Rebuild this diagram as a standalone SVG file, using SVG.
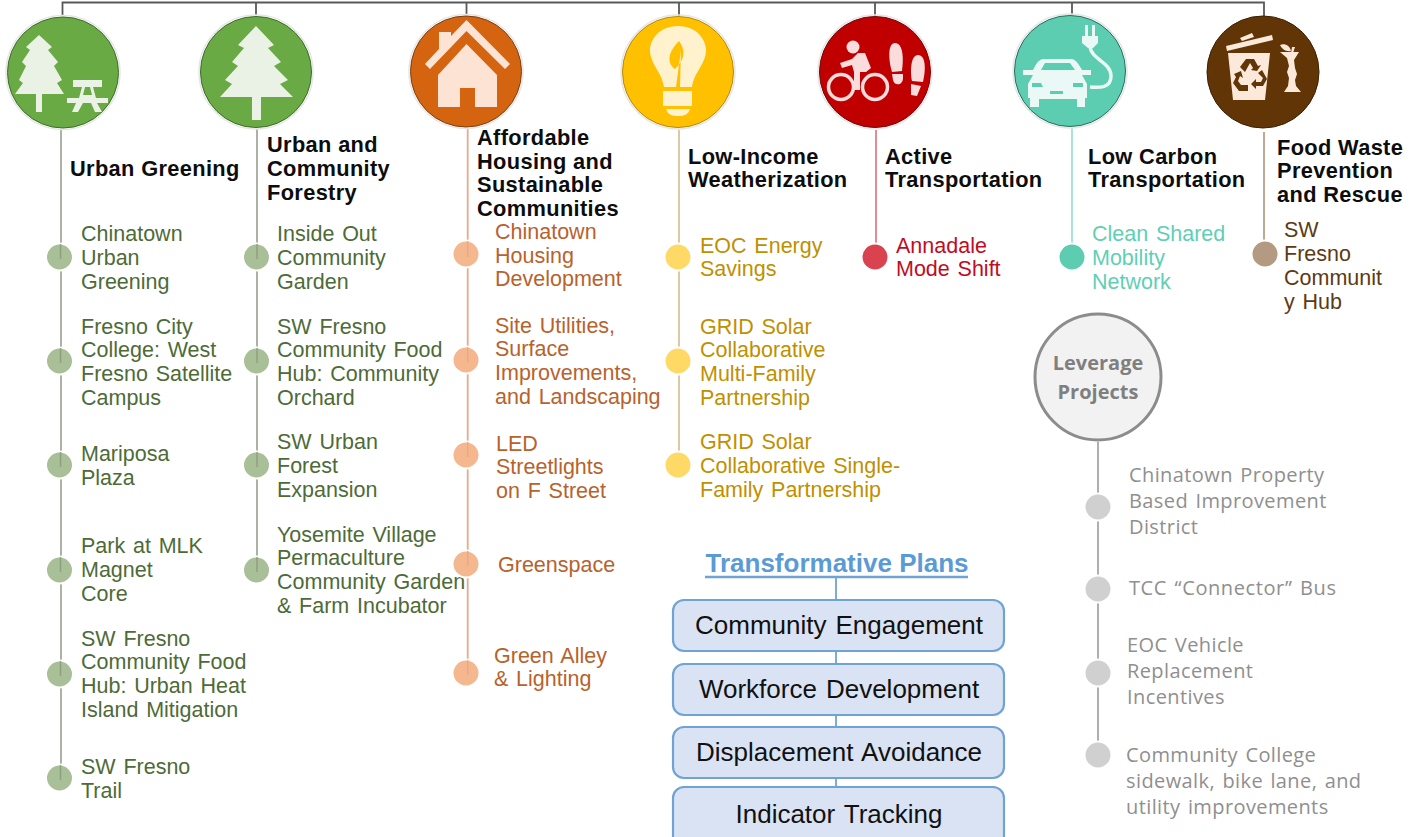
<svg xmlns="http://www.w3.org/2000/svg" width="1410" height="837" viewBox="0 0 1410 837">
<style>
text{font-family:"Liberation Sans",Arial,sans-serif;font-size:21.5px;word-spacing:1.8px}
.t{font-weight:700;fill:#0d0d0d;font-size:21.8px;letter-spacing:.35px;word-spacing:0}
.g{fill:#4e6b37}.o{fill:#b8622c}.y{fill:#bf9000}.r{fill:#c00d1e}.c{fill:#5fcfb5}.b{fill:#5e3a14}
.l{fill:#8f8f8f;font-family:"Open Sans",sans-serif;font-size:20px;letter-spacing:.4px}
.box{fill:#dae3f3;stroke:#6fa3d3;stroke-width:2.2}
.bt{font-size:26px;fill:#111;text-anchor:middle}
.halo{fill:none;stroke:#e6e6e6;stroke-width:1.5}
.dot{stroke:#fff;stroke-width:2}
</style>
<g id="connectors" fill="none" stroke-width="1.800">
<path d="M62.500 16V2.500H1264V16M256 2.500V15M466.500 2.500V15M679 2.500V16M875 2.500V16M1072 2.500V15" stroke="#595959"/>
<path d="M61 129V778" stroke="#a3aa9a"/>
<path d="M257 129V570" stroke="#a3aa9a"/>
<path d="M467.700 128V673" stroke="#e8a988"/>
<path d="M679 130V465" stroke="#d9c49a"/>
<path d="M876 130V257" stroke="#e08088"/>
<path d="M1072 128V257" stroke="#9de3d2"/>
<path d="M1264 132V254" stroke="#b8a088"/>
<path d="M1098 442V755" stroke="#a6a6a6"/>
<path d="M836 576V790" stroke="#6fa3d3"/>
<path d="M705 577H968" stroke="#6fa3d3" stroke-width="2.500"/>
</g>
<g id="n1">
<circle class="halo" cx="63" cy="72.500" r="57"/>
<circle cx="63" cy="72.500" r="55.500" fill="#6aaa45" stroke="#3f6b2a"/>
<path fill="#e9f2e4" d="M39 35L52 47L48 50L58 62L54 66L62 80L57 83L64 94H42V112H36V94H15L23 83L19 80L26 66L22 62L30 50L26 47Z"/>
<path fill="#e9f2e4" fill-rule="evenodd" d="M73 80H102V87H93L96 98H108V103H67V98H79L82 87H73ZM85 87L83 95H92L90 87ZM76 103H83L78 112H72ZM91 103H97L102 112H95Z"/>
<text class="t" x="70" y="176">Urban Greening</text>
</g>
<g id="n2">
<circle class="halo" cx="256" cy="72" r="57"/>
<circle cx="256" cy="72" r="55.500" fill="#6aaa45" stroke="#3f6b2a"/>
<path fill="#e9f2e4" d="M256 26L274 45L268 48L281 62L274 66L288 80L280 84L293 97H261V120H252V97H220L232 84L225 80L238 66L232 62L244 48L238 45Z"/>
<text class="t"><tspan x="267" y="152">Urban and</tspan><tspan x="267" y="176">Community</tspan><tspan x="267" y="200">Forestry</tspan></text>
</g>
<g id="n3">
<circle class="halo" cx="466" cy="71.500" r="57"/>
<circle cx="466" cy="71.500" r="55.500" fill="#d56411" stroke="#7d3d0c"/>
<path fill="#fde3d3" d="M466.500 20L510 64L505 69L466.500 31L430 69L425 64L439 49V32H451V36ZM466.500 44L497 75V107H475V88H460V107H438V75Z"/>
<text class="t"><tspan x="477" y="145">Affordable</tspan><tspan x="477" y="169">Housing and</tspan><tspan x="477" y="192">Sustainable</tspan><tspan x="477" y="216">Communities</tspan></text>
</g>
<g id="n4">
<circle class="halo" cx="678" cy="72" r="57"/>
<circle cx="678" cy="72" r="55.500" fill="#ffc000" stroke="#b08a10"/>
<path fill="#fff2cc" d="M678 26C698 26 706 41 706 50C706 64 694 72 692 87H664C662 72 650 64 650 50C650 41 658 26 678 26ZM663 91H692V106H663ZM666 109H690C688 115 684 116 678 116C672 116 668 115 666 109Z"/>
<path fill="#ffc000" d="M679 41C686 50 685 60 675 69C670 66 664 56 679 41ZM681 50L676 87H680Z"/>
<text class="t"><tspan x="688" y="164">Low-Income</tspan><tspan x="688" y="187">Weatherization</tspan></text>
</g>
<g id="n5">
<circle class="halo" cx="875" cy="72" r="57"/>
<circle cx="875" cy="72" r="55.500" fill="#c00000" stroke="#6f0a0a"/>
<g fill="#fbdcdc">
<circle cx="853" cy="47" r="6.500"/>
<path d="M840 63L852 59L858 53H865L871 68L866 72L860 72V90H854V72L852 65L842 68Z"/>
<path d="M895 43C903 43 904 58 902 71L892 72C888 58 888 43 895 43ZM892 74H903V78C903 86 894 86 893 80ZM918 55C926 55 926 70 923 82L912 81C910 70 911 55 918 55ZM911 84L921 86L917 96L911 95Z"/>
</g>
<g fill="none" stroke="#fbdcdc" stroke-width="3.500"><circle cx="841" cy="87" r="12.500"/><circle cx="875" cy="87" r="12.500"/></g>
<text class="t"><tspan x="885" y="164">Active</tspan><tspan x="885" y="187">Transportation</tspan></text>
</g>
<g id="n6">
<circle class="halo" cx="1070" cy="71" r="57"/>
<circle cx="1070" cy="71" r="55.500" fill="#5ccdb0" stroke="#2a6b5c"/>
<path fill="#eaf9f5" fill-rule="evenodd" d="M1043 59H1072Q1076 59 1082 70H1091V75H1082L1087 84V98H1085V107H1077V99H1039V107H1030V98H1028V84L1033 75H1023V70H1033Q1038 59 1043 59ZM1045 63L1041 70H1075L1070 63ZM1032 83V87H1043L1041 83ZM1083 83L1073 83V87H1083ZM1050 91V94H1063V91Z"/>
<path fill="#eaf9f5" d="M1085 25H1088V36H1092V25H1095V36H1098V43L1093 48H1088L1082 43V36H1085Z"/>
<path fill="none" stroke="#eaf9f5" stroke-width="3.500" d="M1090 47C1092 60 1111 62 1111 76C1111 88 1100 88 1090 87"/>
<text class="t"><tspan x="1088" y="164">Low Carbon</tspan><tspan x="1088" y="187">Transportation</tspan></text>
</g>
<g id="n7">
<circle cx="1263" cy="72" r="56" fill="#623506" stroke="#3a2004" stroke-width="1"/>
<g fill="#fde9d9">
<path d="M1226 46L1272 35L1273 40L1227 51ZM1240 38L1252 33L1254 37L1242 41Z"/>
<path fill-rule="evenodd" d="M1228 53H1270L1265 100H1233ZM1240 67L1246 59H1254L1258 66L1261 65L1257 71L1251 70L1253 68L1250 63L1245 72ZM1262 70L1267 79L1263 86H1256V89L1251 84L1256 79V82H1261L1263 78L1258 73ZM1234 74L1241 71L1243 78L1240 76L1238 81L1241 85H1248V91H1239L1233 83L1236 77Z"/>
<path d="M1280 52H1299L1294 60L1295 68L1297 74L1295 80L1296 86L1301 92H1284L1288 86L1289 78L1287 72L1289 66L1287 58Z"/>
<path d="M1280 45C1285 43 1290 46 1291 51C1286 52 1282 49 1280 45ZM1292 47H1295L1293 53H1291Z"/>
</g>
<text class="t"><tspan x="1277" y="155">Food Waste</tspan><tspan x="1277" y="178">Prevention</tspan><tspan x="1277" y="202">and Rescue</tspan></text>
</g>
<g id="greening">
<g fill="#a9bf97"><circle class="dot" cx="59.500" cy="257" r="13.500"/><circle class="dot" cx="59.500" cy="361" r="13.500"/><circle class="dot" cx="59.500" cy="465" r="13.500"/><circle class="dot" cx="59.500" cy="570" r="13.500"/><circle class="dot" cx="59.500" cy="674" r="13.500"/><circle class="dot" cx="59.500" cy="778" r="13.500"/></g>
<path d="M60.500 244V259M60.500 348V363M60.500 452V467M60.500 557V572M60.500 661V676M60.500 765V780" stroke="#8fa07f" stroke-width="1.500"/>
<text class="g"><tspan x="81" y="241">Chinatown</tspan><tspan x="81" y="265">Urban</tspan><tspan x="81" y="289">Greening</tspan></text>
<text class="g"><tspan x="81" y="334">Fresno City</tspan><tspan x="81" y="357">College: West</tspan><tspan x="81" y="381">Fresno Satellite</tspan><tspan x="81" y="405">Campus</tspan></text>
<text class="g"><tspan x="81" y="461">Mariposa</tspan><tspan x="81" y="485">Plaza</tspan></text>
<text class="g"><tspan x="81" y="553">Park at MLK</tspan><tspan x="81" y="577">Magnet</tspan><tspan x="81" y="601">Core</tspan></text>
<text class="g"><tspan x="81" y="646">SW Fresno</tspan><tspan x="81" y="669">Community Food</tspan><tspan x="81" y="693">Hub: Urban Heat</tspan><tspan x="81" y="717">Island Mitigation</tspan></text>
<text class="g"><tspan x="81" y="774">SW Fresno</tspan><tspan x="81" y="798">Trail</tspan></text>
</g>
<g id="forestry">
<g fill="#a9bf97"><circle class="dot" cx="256.500" cy="257" r="13.500"/><circle class="dot" cx="256.500" cy="361" r="13.500"/><circle class="dot" cx="256.500" cy="465" r="13.500"/><circle class="dot" cx="256.500" cy="570" r="13.500"/></g>
<path d="M257 244V259M257 348V363M257 452V467M257 557V572" stroke="#8fa07f" stroke-width="1.500"/>
<text class="g"><tspan x="277" y="241">Inside Out</tspan><tspan x="277" y="265">Community</tspan><tspan x="277" y="289">Garden</tspan></text>
<text class="g"><tspan x="277" y="334">SW Fresno</tspan><tspan x="277" y="357">Community Food</tspan><tspan x="277" y="381">Hub: Community</tspan><tspan x="277" y="405">Orchard</tspan></text>
<text class="g"><tspan x="277" y="449">SW Urban</tspan><tspan x="277" y="473">Forest</tspan><tspan x="277" y="497">Expansion</tspan></text>
<text class="g"><tspan x="277" y="542">Yosemite Village</tspan><tspan x="277" y="565">Permaculture</tspan><tspan x="277" y="589">Community Garden</tspan><tspan x="277" y="613">&amp; Farm Incubator</tspan></text>
</g>
<g id="housing">
<g fill="#f4b78e"><circle class="dot" cx="466" cy="254" r="13.500"/><circle class="dot" cx="466" cy="360" r="13.500"/><circle class="dot" cx="466" cy="455" r="13.500"/><circle class="dot" cx="466" cy="564" r="13.500"/><circle class="dot" cx="466" cy="673" r="13.500"/></g>
<path d="M467.700 241V257M467.700 347V362M467.700 442V457M467.700 551V566M467.700 660V675" stroke="#e8a988" stroke-width="1.500"/>
<text class="o"><tspan x="495" y="239">Chinatown</tspan><tspan x="495" y="263">Housing</tspan><tspan x="495" y="286">Development</tspan></text>
<text class="o"><tspan x="495" y="333">Site Utilities,</tspan><tspan x="495" y="356">Surface</tspan><tspan x="495" y="380">Improvements,</tspan><tspan x="495" y="404">and Landscaping</tspan></text>
<text class="o"><tspan x="496" y="451">LED</tspan><tspan x="496" y="474">Streetlights</tspan><tspan x="496" y="498">on F Street</tspan></text>
<text class="o" x="498" y="572">Greenspace</text>
<text class="o"><tspan x="494" y="663">Green Alley</tspan><tspan x="494" y="686">&amp; Lighting</tspan></text>
</g>
<g id="weatherization">
<g fill="#ffd966"><circle class="dot" cx="678" cy="257" r="13.500"/><circle class="dot" cx="678" cy="361" r="13.500"/><circle class="dot" cx="678" cy="465" r="13.500"/></g>
<text class="y"><tspan x="700" y="253">EOC Energy</tspan><tspan x="700" y="276">Savings</tspan></text>
<text class="y"><tspan x="700" y="334">GRID Solar</tspan><tspan x="700" y="357">Collaborative</tspan><tspan x="700" y="381">Multi-Family</tspan><tspan x="700" y="405">Partnership</tspan></text>
<text class="y"><tspan x="700" y="449">GRID Solar</tspan><tspan x="700" y="473">Collaborative Single-</tspan><tspan x="700" y="497">Family Partnership</tspan></text>
</g>
<g id="active">
<circle class="dot" cx="875" cy="257" r="13.500" fill="#d9434f"/>
<text class="r"><tspan x="896" y="253">Annadale</tspan><tspan x="896" y="276">Mode Shift</tspan></text>
</g>
<g id="lowcarbon">
<circle class="dot" cx="1072" cy="257" r="13.500" fill="#5ccdb0"/>
<text class="c"><tspan x="1092" y="241">Clean Shared</tspan><tspan x="1092" y="265">Mobility</tspan><tspan x="1092" y="289">Network</tspan></text>
</g>
<g id="foodwaste">
<circle class="dot" cx="1265" cy="254" r="13.500" fill="#b39a80"/>
<text class="b"><tspan x="1284" y="237">SW</tspan><tspan x="1284" y="261">Fresno</tspan><tspan x="1284" y="285">Communit</tspan><tspan x="1284" y="309">y Hub</tspan></text>
</g>
<g id="leverage">
<circle cx="1098" cy="377" r="63" fill="#f2f2f2" stroke="#8c8c8c" stroke-width="3"/>
<text style="font-family:'Open Sans',sans-serif;font-size:20px;font-weight:700;fill:#7f7f7f;text-anchor:middle;word-spacing:0"><tspan x="1098" y="370">Leverage</tspan><tspan x="1098" y="399">Projects</tspan></text>
<g fill="#d0d0d0"><circle class="dot" cx="1098" cy="507" r="13.500"/><circle class="dot" cx="1098" cy="589" r="13.500"/><circle class="dot" cx="1098" cy="673" r="13.500"/><circle class="dot" cx="1098" cy="755" r="13.500"/></g>
<text class="l"><tspan x="1129" y="482">Chinatown Property</tspan><tspan x="1129" y="508">Based Improvement</tspan><tspan x="1129" y="534">District</tspan></text>
<text class="l" x="1129" y="595" style="letter-spacing:.6px">TCC “Connector” Bus</text>
<text class="l"><tspan x="1127" y="652">EOC Vehicle</tspan><tspan x="1127" y="678">Replacement</tspan><tspan x="1127" y="704">Incentives</tspan></text>
<text class="l"><tspan x="1126" y="762">Community College</tspan><tspan x="1126" y="788">sidewalk, bike lane, and</tspan><tspan x="1126" y="814">utility improvements</tspan></text>
</g>
<g id="plans">
<text x="837" y="572" style="font-size:26px;font-weight:700;fill:#5b9bd5;text-anchor:middle;word-spacing:0">Transformative Plans</text>
<g id="p1"><rect class="box" x="673" y="600" width="331" height="51" rx="11"/><text class="bt" x="839" y="634">Community Engagement</text></g>
<g id="p2"><rect class="box" x="673" y="664" width="331" height="51" rx="11"/><text class="bt" x="839" y="698">Workforce Development</text></g>
<g id="p3"><rect class="box" x="673" y="727" width="331" height="51" rx="11"/><text class="bt" x="839" y="761">Displacement Avoidance</text></g>
<g id="p4"><rect class="box" x="673" y="787" width="331" height="60" rx="11"/><text class="bt" x="839" y="823">Indicator Tracking</text></g>
</g>
</svg>
